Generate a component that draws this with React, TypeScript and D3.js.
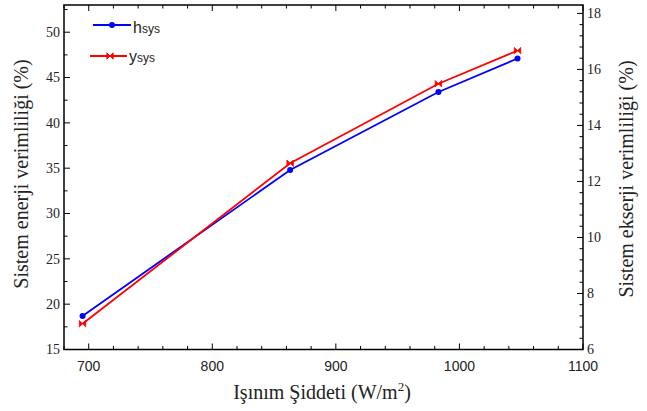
import React from "react";
import * as d3 from "d3";

const irradiance = [695, 863, 983, 1047];
const energyEff = [18.7, 34.8, 43.4, 47.1];
const exergyEff = [6.92, 12.65, 15.49, 16.67];
const xTicks = [700, 800, 900, 1000, 1100];
const yLeftTicks = [15, 20, 25, 30, 35, 40, 45, 50];
const yRightTicks = [6, 8, 10, 12, 14, 16, 18];

const W = 647, H = 411;
const L = 64, R = 583, T = 5, B = 349.5;

export default function App() {
  const x = d3.scaleLinear().domain([680, 1100]).range([L, R]);
  const yL = d3.scaleLinear().domain([15, 53]).range([B, T]);
  const yR = d3.scaleLinear().domain([6, 18.3]).range([B, T]);

  const xMinor = d3.range(680, 1101, 20);
  const yLMinor = d3.range(15, 53.01, 2.5);
  const yRMinor = d3.range(6, 18.31, 0.4);

  const lineL = d3.line<number>().x((_, i) => x(irradiance[i])).y((d) => yL(d));
  const lineR = d3.line<number>().x((_, i) => x(irradiance[i])).y((d) => yR(d));

  const bow = (cx: number, cy: number, s = 3.2) =>
    `M${cx - s},${cy - s}L${cx + s},${cy + s}L${cx + s},${cy - s}L${cx - s},${cy + s}Z`;

  const serif = "'Liberation Serif', 'Times New Roman', serif";
  const sans = "'Liberation Sans', Arial, sans-serif";

  return (
    <svg width={W} height={H} style={{ position: "absolute", left: 0, top: 0, background: "#fff" }}>
      <rect x={0} y={0} width={W} height={H} fill="#fff" />
      {xMinor.map((v) => {
        const major = v % 100 === 0;
        const len = major ? 6 : 3.5;
        return (
          <g key={"xt" + v} stroke="#000" strokeWidth={1}>
            <line x1={x(v)} x2={x(v)} y1={B} y2={B - len} />
            <line x1={x(v)} x2={x(v)} y1={T} y2={T + len} />
          </g>
        );
      })}
      {yLMinor.map((v) => {
        const major = Math.abs(v % 5) < 1e-6;
        const len = major ? 6 : 3.5;
        return <line key={"yl" + v} x1={L} x2={L + len} y1={yL(v)} y2={yL(v)} stroke="#000" />;
      })}
      {yRMinor.map((v, i) => {
        const major = i % 5 === 0;
        const len = major ? 6 : 3.5;
        return <line key={"yr" + i} x1={R} x2={R - len} y1={yR(v)} y2={yR(v)} stroke="#000" />;
      })}
      <rect x={L} y={T} width={R - L} height={B - T} fill="none" stroke="#000" strokeWidth={1.5} />

      {xTicks.map((v) => (
        <text key={"xl" + v} x={x(v)} y={371} textAnchor="middle" fontFamily={sans} fontSize={14} fill="#222">
          {v}
        </text>
      ))}
      {yLeftTicks.map((v) => (
        <text key={"yll" + v} x={60} y={yL(v)} dy="0.35em" textAnchor="end" fontFamily={serif} fontSize={14} fill="#222">
          {v}
        </text>
      ))}
      {yRightTicks.map((v) => (
        <text key={"yrl" + v} x={587} y={yR(v)} dy="0.35em" textAnchor="start" fontFamily={serif} fontSize={14} fill="#222">
          {v}
        </text>
      ))}

      <text transform="translate(28,174) rotate(-90)" textAnchor="middle" fontFamily={serif} fontSize={20} fill="#222">
        Sistem enerji verimliliği (%)
      </text>
      <text transform="translate(633,179) rotate(-90)" textAnchor="middle" fontFamily={serif} fontSize={20} fill="#222">
        Sistem ekserji verimliliği (%)
      </text>
      <text x={322} y={399} textAnchor="middle" fontFamily={serif} fontSize={20} fill="#222">
        Işınım Şiddeti (W/m<tspan dy={-8} fontSize={13}>2</tspan><tspan dy={8}>)</tspan>
      </text>

      <path d={lineL(energyEff) || ""} fill="none" stroke="#0000ff" strokeWidth={1.8} />
      <path d={lineR(exergyEff) || ""} fill="none" stroke="#ff0000" strokeWidth={1.8} />
      {energyEff.map((v, i) => (
        <circle key={"c" + i} cx={x(irradiance[i])} cy={yL(v)} r={3} fill="#0000ff" />
      ))}
      {exergyEff.map((v, i) => (
        <path key={"b" + i} d={bow(x(irradiance[i]), yR(v))} fill="#ff0000" stroke="#ff0000" strokeWidth={0.8} />
      ))}

      <line x1={93} x2={131} y1={25} y2={25} stroke="#0000ff" strokeWidth={1.8} />
      <circle cx={112} cy={25} r={3} fill="#0000ff" />
      <text x={133} y={33} fontFamily={sans} fontSize={16} fill="#222">
        h<tspan fontSize={12}>sys</tspan>
      </text>
      <line x1={90} x2={127} y1={56} y2={56} stroke="#ff0000" strokeWidth={1.8} />
      <path d={bow(110, 56)} fill="#ff0000" stroke="#ff0000" strokeWidth={0.8} />
      <text x={129} y={62} fontFamily={sans} fontSize={16} fill="#222">
        y<tspan fontSize={12}>sys</tspan>
      </text>
    </svg>
  );
}
